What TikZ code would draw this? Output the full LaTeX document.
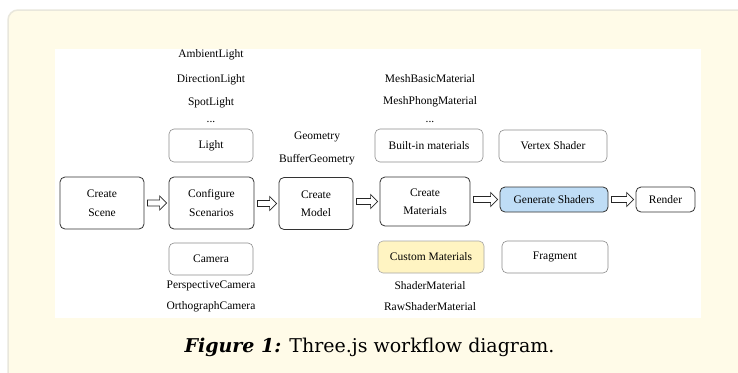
\documentclass[tikz,border=0pt]{standalone}
\usepackage{fontspec}
\setmainfont{Liberation Serif}
\newfontfamily\capfont{DejaVu Serif}
\usetikzlibrary{calc}

\definecolor{cream}{HTML}{FFFBE8}
\definecolor{creamline}{HTML}{E9E7DC}
\definecolor{shaderblue}{HTML}{BFDDF6}
\definecolor{customyellow}{HTML}{FFF4C2}

\tikzset{
  stage/.style={draw=black!80, line width=0.8pt, rounded corners=5pt, align=center,
    font=\fontsize{11.5}{18.5}\selectfont, inner sep=0pt},
  option/.style={draw=black!45, line width=0.6pt, rounded corners=5pt, align=center,
    font=\fontsize{11.5}{15}\selectfont, inner sep=0pt},
  item/.style={font=\fontsize{11.5}{14}\selectfont, inner sep=0pt},
  flow/.style={draw=black!85, line width=0.7pt, fill=white, to path={
    let \p1=(\tikztostart.east), \p2=(\tikztotarget.west) in
    (\x1+3pt,\y2+3pt) -- (\x2-9pt,\y2+3pt) -- (\x2-9pt,\y2+7pt) -- (\x2-2pt,\y2)
    -- (\x2-9pt,\y2-7pt) -- (\x2-9pt,\y2-3pt) -- (\x1+3pt,\y2-3pt) -- cycle}},
}

\begin{document}
\begin{tikzpicture}[x=1pt, y=-1pt]

\useasboundingbox (0,0) rectangle (738,372);
\begin{scope}
\clip (0,0) rectangle (738,372);
\fill[white] (0,0) rectangle (738,372);
\draw[rounded corners=10pt, fill=cream, draw=creamline, line width=1.5pt] (8,390) -- (8,10) -- (760,10) -- (760,390);
\end{scope}
\fill[white] (55,49) rectangle (701,318);

\node[stage, minimum width=84pt, minimum height=52pt] (scene) at (102,203) {Create\\Scene};
\node[stage, minimum width=85pt, minimum height=52pt] (config) at (211.5,203) {Configure\\Scenarios};
\node[stage, minimum width=74pt, minimum height=52pt] (model) at (316,203.5) {Create\\Model};
\node[stage, minimum width=90pt, minimum height=49pt] (materials) at (425,201.5) {Create\\Materials};
\node[stage, fill=shaderblue, minimum width=108pt, minimum height=25pt] (shaders) at (554,199.5) {Generate Shaders};
\node[stage, minimum width=59pt, minimum height=25pt] (render) at (665.5,199.5) {Render};

\node[option, minimum width=84pt, minimum height=33pt] (light) at (211,145.5) {Light};
\node[option, minimum width=108pt, minimum height=33pt] (builtin) at (429,145.5) {Built-in materials};
\node[option, minimum width=108pt, minimum height=32pt] (vertex) at (553,146) {Vertex Shader};
\node[option, minimum width=84pt, minimum height=32pt] (camera) at (211,259) {Camera};
\node[option, draw=black!35, fill=customyellow, minimum width=106pt, minimum height=32pt] (custom) at (431,257) {Custom Materials};
\node[option, minimum width=106pt, minimum height=32pt] (fragment) at (555,257) {Fragment};

\node[item] (ambient) at (211,55) {AmbientLight};
\node[item] (direction) at (211,80) {DirectionLight};
\node[item] (spot) at (211,103) {SpotLight};
\node[item] (lightmore) at (211,122) {...};
\node[item] (geometry) at (317,137) {Geometry};
\node[item] (buffer) at (317,160) {BufferGeometry};
\node[item] (meshbasic) at (430,79) {MeshBasicMaterial};
\node[item] (meshphong) at (430,102) {MeshPhongMaterial};
\node[item] (matmore) at (430,122) {...};
\node[item] (perspective) at (211,286) {PerspectiveCamera};
\node[item] (ortho) at (211,307) {OrthographCamera};
\node[item] (shadermat) at (430,286) {ShaderMaterial};
\node[item] (rawshader) at (430,307) {RawShaderMaterial};

\draw[flow] (scene) to (config);
\draw[flow] (config) to (model);
\draw[flow] (model) to (materials);
\draw[flow] (materials) to (shaders);
\draw[flow] (shaders) to (render);

\node[font=\capfont\fontsize{19}{22}\selectfont, inner sep=0pt] (caption) at (369.5,347)
  {\textbf{\textit{Figure 1:}} Three.js workflow diagram.};

\end{tikzpicture}
\end{document}
